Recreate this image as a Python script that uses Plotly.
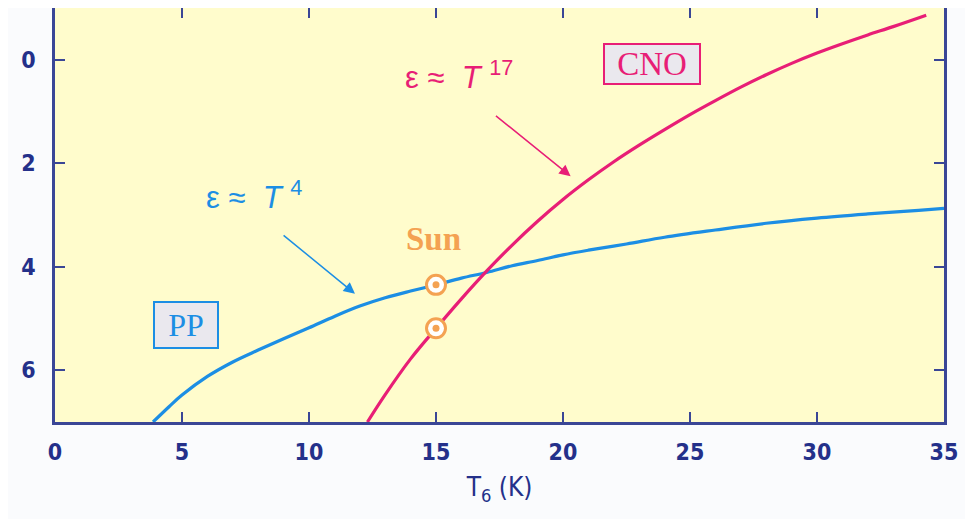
import plotly.graph_objects as go

# Data
pp_T = [3.86, 4.5, 5.0, 6.0, 7.0, 8.0, 9.0, 10.0, 11.0, 12.0, 13.0, 14.0, 15.0, 16.0, 17.0, 18.0,
        19.0, 20.0, 21.0, 22.5, 24.0, 26.0, 28.0, 30.0, 32.0, 34.0, 35.0]
pp_eps = [7.0, 6.70, 6.48, 6.12, 5.84, 5.61, 5.39, 5.18, 4.96, 4.76, 4.60, 4.47, 4.35, 4.22, 4.11, 3.98,
          3.88, 3.77, 3.68, 3.56, 3.43, 3.29, 3.16, 3.06, 2.98, 2.91, 2.87]

cno_T = [12.3, 13.0, 14.0, 15.0, 16.0, 17.0, 18.0, 19.0, 20.0, 21.0, 22.0, 23.0, 24.0, 25.0, 26.0,
         27.0, 28.0, 29.0, 30.0, 31.0, 32.0, 33.0, 34.3]
cno_eps = [7.0, 6.47, 5.78, 5.19, 4.62, 4.08, 3.58, 3.12, 2.70, 2.32, 1.97, 1.65, 1.35, 1.06, 0.79,
           0.53, 0.29, 0.07, -0.13, -0.31, -0.48, -0.64, -0.86]

sun_T = [15, 15]
sun_eps = [4.35, 5.19]

x_ticks = [0, 5, 10, 15, 20, 25, 30, 35]
y_ticks = [0, 2, 4, 6]

BLUE = "rgb(28,142,228)"
PINK = "rgb(232,30,118)"
ORANGE = "rgb(244,162,82)"
NAVY = "rgb(36,48,138)"
AXIS = "rgb(58,70,150)"

fig = go.Figure()
fig.add_trace(go.Scatter(x=pp_T, y=pp_eps, mode="lines", line=dict(color=BLUE, width=3.2, shape="spline"), hoverinfo="skip"))
fig.add_trace(go.Scatter(x=cno_T, y=cno_eps, mode="lines", line=dict(color=PINK, width=3.2, shape="spline"), hoverinfo="skip"))
fig.add_trace(go.Scatter(x=sun_T, y=sun_eps, mode="markers",
                         marker=dict(size=19, color="white", line=dict(color=ORANGE, width=3)), hoverinfo="skip"))
fig.add_trace(go.Scatter(x=sun_T, y=sun_eps, mode="markers",
                         marker=dict(size=7, color=ORANGE), hoverinfo="skip"))

sans = "Liberation Sans, Arial, sans-serif"
serif = "Liberation Serif, Times New Roman, serif"
cond = "DejaVu Sans Condensed, Liberation Sans Narrow, Arial Narrow, sans-serif"

annos = [
    dict(x=7.83, y=2.62, text="ε ≈  <i>T</i> <sup>4</sup>", font=dict(family=sans, size=31, color=BLUE)),
    dict(x=15.9, y=0.30, text="ε ≈  <i>T</i> <sup>17</sup>", font=dict(family=sans, size=31, color=PINK)),
    dict(x=14.9, y=3.46, text="<b>Sun</b>", font=dict(family=serif, size=33, color=ORANGE)),
    dict(x=23.5, y=0.08, text="CNO", font=dict(family=serif, size=33, color=PINK),
         bgcolor="rgb(234,232,238)", bordercolor=PINK, borderwidth=2, width=92, height=36, borderpad=1),
    dict(x=5.16, y=5.13, text="PP", font=dict(family=serif, size=32, color=BLUE),
         bgcolor="rgb(234,232,238)", bordercolor=BLUE, borderwidth=2, width=60, height=42, borderpad=1),
]
for a in annos:
    fig.add_annotation(xref="x", yref="y", showarrow=False, **a)

fig.add_annotation(x=11.81, y=4.52, ax=8.94, ay=3.37, xref="x", yref="y", axref="x", ayref="y",
                   showarrow=True, arrowhead=2, arrowsize=1.5, arrowwidth=1.5, arrowcolor=BLUE, text="")
fig.add_annotation(x=20.3, y=2.25, ax=17.3, ay=1.06, xref="x", yref="y", axref="x", ayref="y",
                   showarrow=True, arrowhead=2, arrowsize=1.5, arrowwidth=1.5, arrowcolor=PINK, text="")

tickfont = dict(family=cond, size=23, color=NAVY, weight="bold")

fig.update_xaxes(range=[0, 35], tickvals=x_ticks, ticks="inside", ticklen=10, tickwidth=2, tickcolor=AXIS,
                 showline=True, linecolor=AXIS, linewidth=2.5, mirror="allticks", showgrid=False, zeroline=False,
                 automargin=False, tickfont=tickfont, ticklabelstandoff=8,
                 title=dict(text="T<sub>6</sub> (K)", font=dict(family=cond, size=26, color=NAVY),
                            standoff=14))
fig.update_yaxes(range=[7, -1], tickvals=y_ticks, ticks="inside", ticklen=10, tickwidth=2, tickcolor=AXIS,
                 showline=True, linecolor=AXIS, linewidth=2.5, mirror="allticks", showgrid=False, zeroline=False,
                 automargin=False, tickfont=tickfont, ticklabelstandoff=12)

# the page body adds an 8px margin, so the figure is sized to fit inside the window
fig.update_layout(width=957, height=511, margin=dict(l=47, r=21, t=0, b=97),
                  plot_bgcolor="rgb(255,252,204)", paper_bgcolor="rgb(250,251,253)", showlegend=False)

fig.write_html("out.html")
